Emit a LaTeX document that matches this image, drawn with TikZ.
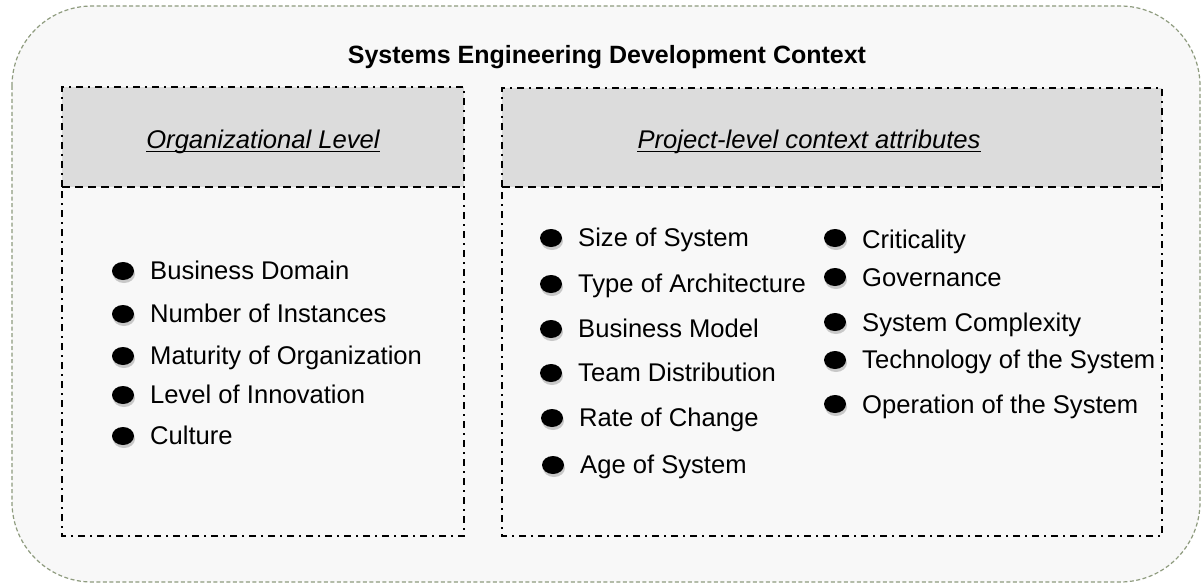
\documentclass[tikz,border=0pt]{standalone}
\usepackage{fontspec}
\setmainfont{Liberation Sans}
\usetikzlibrary{shadows,shapes.geometric}
\definecolor{outerline}{HTML}{8E9B7E}
\definecolor{panelbg}{HTML}{F8F8F8}
\definecolor{headbg}{HTML}{DCDCDC}
\tikzset{
  outerbox/.style={draw=outerline, line width=1.2pt, dash pattern=on 4pt off 2.5pt, fill=panelbg, rounded corners=80pt},
  panel/.style={draw=black, line width=1.5pt, dash pattern=on 7pt off 5pt on 2pt off 5pt},
  headsep/.style={draw=black, line width=1.5pt, dash pattern=on 8pt off 5pt},
  bullet/.style={ellipse, fill=black, minimum width=22pt, minimum height=18pt, inner sep=0pt,
     drop shadow={shadow xshift=1pt, shadow yshift=-3pt, opacity=0.4}},
  item/.style={anchor=base west, inner sep=0pt, font=\fontsize{25.6}{30}\selectfont},
  headtxt/.style={anchor=base, inner sep=0pt, font=\fontsize{25.6}{30}\selectfont\itshape},
  title/.style={anchor=base, inner sep=0pt, font=\fontsize{25}{30}\selectfont\bfseries},
  uline/.style={line width=1.5pt}
}
\begin{document}
\begin{tikzpicture}[x=1pt,y=-1pt]
\useasboundingbox (0,0) rectangle (1201,583);
\fill[white] (0,0) rectangle (1201,583);
% outer container
\path[outerbox] (12,6) rectangle (1200,582);
\node[title] (title) at (607,64) {Systems Engineering Development Context};

% left panel
\fill[panelbg] (62,87) rectangle (464,536);
\fill[headbg] (62,87) rectangle (464,187);
\draw[panel] (62,187) -- (62,87) -- (464,87) -- (464,536) -- (62,536) -- cycle;
\draw[headsep] (62,187) -- (464,187);
\node[headtxt] (hl) at (263,148) {Organizational Level};
\draw[uline] ([yshift=-3.5pt]hl.base west) -- ([yshift=-3.5pt]hl.base east);

% right panel
\fill[panelbg] (502,88) rectangle (1162,536);
\fill[headbg] (502,88) rectangle (1162,187);
\draw[panel] (502,187) -- (502,88) -- (1162,88) -- (1162,536) -- (502,536) -- cycle;
\draw[headsep] (502,187) -- (1162,187);
\node[headtxt] (hr) at (809,148) {Project-level context attributes};
\draw[uline] ([yshift=-3.5pt]hr.base west) -- ([yshift=-3.5pt]hr.base east);

% left list
\node[bullet] (lb1) at (123,271) {}; \node[item] (lt1) at (150,279) {Business Domain};
\node[bullet] (lb2) at (123,314) {}; \node[item] (lt2) at (150,322) {Number of Instances};
\node[bullet] (lb3) at (123,356) {}; \node[item] (lt3) at (150,364) {Maturity of Organization};
\node[bullet] (lb4) at (123,395) {}; \node[item] (lt4) at (150,403) {Level of Innovation};
\node[bullet] (lb5) at (123,436) {}; \node[item] (lt5) at (150,444) {Culture};

% right list, column 1
\node[bullet] (ra1) at (551,238) {}; \node[item] (rat1) at (578,246) {Size of System};
\node[bullet] (ra2) at (551,284) {}; \node[item] (rat2) at (578,292) {Type of Architecture};
\node[bullet] (ra3) at (551,329) {}; \node[item] (rat3) at (578,337) {Business Model};
\node[bullet] (ra4) at (551,373) {}; \node[item] (rat4) at (578,381) {Team Distribution};
\node[bullet] (ra5) at (552,418) {}; \node[item] (rat5) at (579,426) {Rate of Change};
\node[bullet] (ra6) at (553,465) {}; \node[item] (rat6) at (580,473) {Age of System};

% right list, column 2
\node[bullet] (rb1) at (835,238) {}; \node[item] (rbt1) at (862,248) {Criticality};
\node[bullet] (rb2) at (835,277) {}; \node[item] (rbt2) at (862,286) {Governance};
\node[bullet] (rb3) at (835,322) {}; \node[item] (rbt3) at (862,331) {System Complexity};
\node[bullet] (rb4) at (835,360) {}; \node[item] (rbt4) at (862,368) {Technology of the System};
\node[bullet] (rb5) at (835,404) {}; \node[item] (rbt5) at (862,413) {Operation of the System};
\end{tikzpicture}
\end{document}
